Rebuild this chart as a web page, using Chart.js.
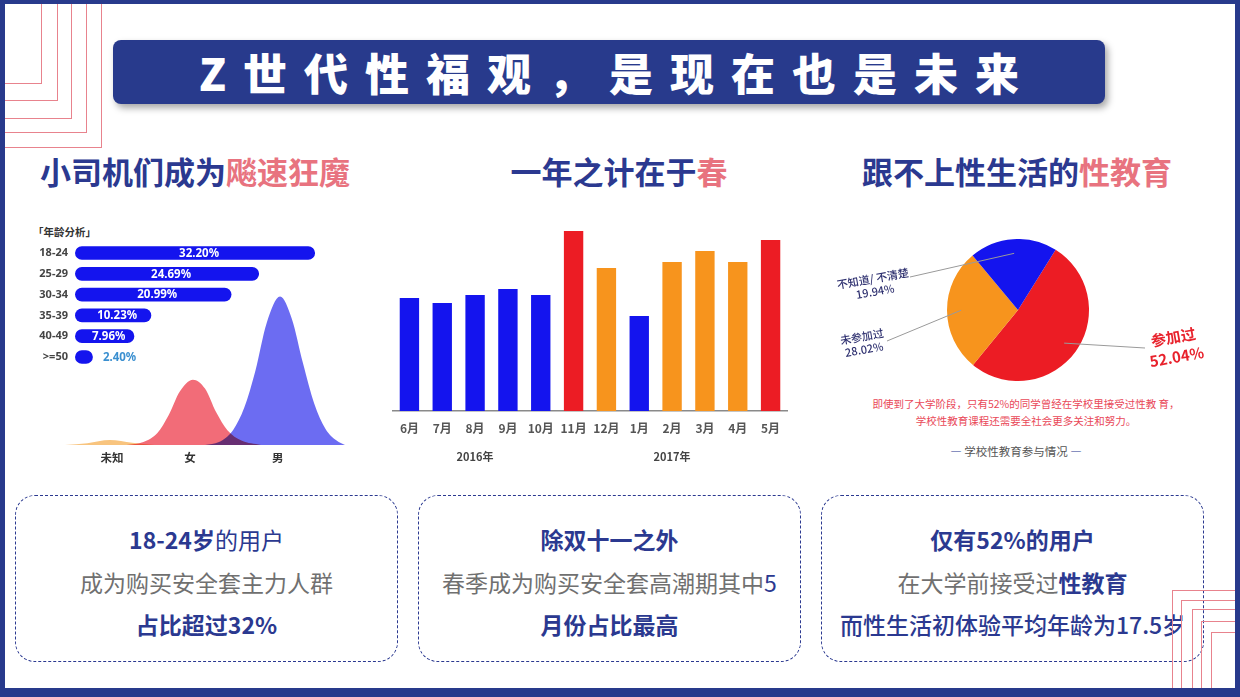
<!DOCTYPE html>
<html lang="zh-CN">
<head>
<meta charset="utf-8">
<title>Z世代性福观，是现在也是未来</title>
<script src="https://cdn.jsdelivr.net/npm/chart.js@4.4.1/dist/chart.umd.min.js"></script>
<style>
    html, body { margin: 0; padding: 0; }
    body {
        width: 1240px; height: 697px; position: relative; overflow: hidden;
        background: #fff;
        font-family: 'Noto Sans CJK SC', 'Noto Sans', sans-serif;
    }
    .frame {
        position: absolute; left: 0; top: 0; width: 1240px; height: 697px;
        box-sizing: border-box; border: solid #283a8c;
        border-width: 4px 5px 9px 5px; z-index: 6; pointer-events: none;
    }
    .deco-tl { position: absolute; left: 5px; top: 0; box-sizing: border-box;
        border-right: 1.5px solid #e8838d; border-bottom: 1.5px solid #e8838d; z-index: 4; }
    .deco-br { position: absolute; right: 0; bottom: 0; box-sizing: border-box;
        border-left: 1.5px solid #e8838d; border-top: 1.5px solid #e8838d; z-index: 4; }
    .title-bar {
        position: absolute; left: 113px; top: 40px; width: 992px; height: 64px;
        background: #283a8c; border-radius: 8px;
        box-shadow: 3px 4px 7px rgba(0,0,0,0.35);
        color: #fff; font-size: 44px; font-weight: 900; letter-spacing: 17px;
        line-height: 64px; text-align: center; padding-left: 17px; box-sizing: border-box;
        z-index: 5;
    }
    .heading {
        position: absolute; top: 151px; width: 400px; text-align: center;
        font-size: 31px; font-weight: 700; line-height: 40px; color: #2b3990;
    }
    .heading .pink { color: #e8737f; }
    .note-box {
        position: absolute; top: 495px; width: 383px; height: 167px;
        box-sizing: border-box; border: 1.5px dashed #2b3990; border-radius: 20px;
        text-align: center; font-size: 23px; line-height: 42.5px; padding-top: 22px;
        color: #2b3990;
    }
    .note-box .b { font-weight: 700; }
    .note-box .m { font-weight: 500; }
    .note-box .g { color: #707070; }
    canvas { position: absolute; }
    .small { position: absolute; white-space: nowrap; }
</style>
</head>
<body>

<div class="frame"></div>

<!-- 角落装饰线 -->
<div class="deco-tl" style="width:37px;height:84px"></div>
<div class="deco-tl" style="width:53px;height:101px"></div>
<div class="deco-tl" style="width:67px;height:119px"></div>
<div class="deco-tl" style="width:82px;height:133px"></div>
<div class="deco-tl" style="width:97px;height:148px"></div>

<div class="deco-br" style="left:1172px;top:590px"></div>
<div class="deco-br" style="left:1181px;top:600px"></div>
<div class="deco-br" style="left:1192px;top:609px"></div>
<div class="deco-br" style="left:1201px;top:621px"></div>
<div class="deco-br" style="left:1211px;top:632px"></div>

<div class="title-bar">Z世代性福观，是现在也是未来</div>

<div class="heading" style="left:-5px">小司机们成为<span class="pink">飚速狂魔</span></div>
<div class="heading" style="left:419px">一年之计在于<span class="pink">春</span></div>
<div class="heading" style="left:817px">跟不上性生活的<span class="pink">性教育</span></div>

<!-- 年龄分析 -->
<div class="small" style="left:33px;top:225px;font-size:10.5px;font-weight:700;line-height:14px;color:#333">「年龄分析」</div>
<canvas id="genderChart" width="280" height="175" style="left:65px;top:295px"></canvas>
<canvas id="ageChart" width="300" height="152" style="left:30px;top:229px"></canvas>

<!-- 月度 -->
<canvas id="monthChart" width="400" height="248" style="left:390px;top:221px"></canvas>

<!-- 学校性教育 -->
<canvas id="eduChart" width="390" height="142" style="left:823px;top:239px"></canvas>
<div class="small" style="left:826px;top:395px;width:400px;text-align:center;font-size:10.5px;line-height:17px;color:#e94858">
    即使到了大学阶段，只有52%的同学曾经在学校里接受过性教 育，<br>学校性教育课程还需要全社会更多关注和努力。
</div>
<div class="small" style="left:916px;top:443px;width:200px;text-align:center;font-size:11.5px;line-height:16px;color:#555">
    <span style="color:#2b3990;font-weight:700">—</span> 学校性教育参与情况 <span style="color:#2b3990;font-weight:700">—</span>
</div>

<!-- 说明框 -->
<div class="note-box" style="left:15px">
    <span class="b">18-24岁</span>的用户<br>
    <span class="g">成为购买安全套主力人群</span><br>
    <span class="b">占比超过32%</span>
</div>
<div class="note-box" style="left:418px">
    <span class="b">除双十一之外</span><br>
    <span class="g">春季成为购买安全套高潮期其中</span>5<br>
    <span class="b">月份占比最高</span>
</div>
<div class="note-box" style="left:821px">
    <span class="b">仅有52%的用户</span><br>
    <span class="g">在大学前接受过</span><span class="b">性教育</span><br>
    <span class="m">而性生活初体验平均年龄为17.5岁</span>
</div>

<script>
// 年龄分析
const ageGroups = ['18-24', '25-29', '30-34', '35-39', '40-49', '>=50'];
const agePercent = [32.20, 24.69, 20.99, 10.23, 7.96, 2.40];

// 性别分布曲线（横轴 0-100，纵轴以男性峰值为 100）
const genderLabels = ['未知', '女', '男'];
const genderTickPos = [16.8, 44.6, 76];
const unknownX = [0, 8, 16, 24, 32];
const unknownY = [0, 1.2, 3.3, 1.5, 0];
const femaleX = [22, 28, 33, 37, 41, 45.7, 50, 54, 58, 63, 70];
const femaleY = [0, 2, 8, 20, 36, 44, 38, 22, 10, 3, 0];
const maleX = [50, 55, 60, 64, 68, 72, 76.8, 81, 85, 89, 93, 97, 100];
const maleY = [0, 2, 10, 25, 50, 82, 100, 85, 55, 28, 11, 3, 0];

// 月度购买量
const months = ['6月', '7月', '8月', '9月', '10月', '11月', '12月', '1月', '2月', '3月', '4月', '5月'];
const monthValues = [113, 108, 116, 122, 116, 180, 143, 95, 149, 160, 149, 171];
const yearLabels = ['', '', '2016年', '', '', '', '', '', '2017年', '', '', ''];

// 学校性教育参与情况
const eduLabels = ['参加过', '未参加过', '不知道/ 不清楚'];
const eduValues = [52.04, 28.02, 19.94];

// 颜色
const BLUE = '#1414ee';
const RED = '#ec1c24';
const ORANGE = '#f7941d';
const monthColors = [BLUE, BLUE, BLUE, BLUE, BLUE, RED, ORANGE, BLUE, ORANGE, ORANGE, ORANGE, RED];

Chart.defaults.animation = false;
Chart.defaults.responsive = false;
Chart.defaults.font.family = "'Noto Sans CJK SC', 'Noto Sans', sans-serif";
Chart.defaults.plugins.legend.display = false;
Chart.defaults.plugins.tooltip.enabled = false;

const toPoints = (xs, ys) => xs.map((x, i) => ({ x: x, y: ys[i] }));

// 条形图数值标签
const barValueLabels = {
    id: 'barValueLabels',
    afterDatasetsDraw(chart) {
        const ctx = chart.ctx;
        ctx.save();
        ctx.font = "bold 11.5px 'Noto Sans', sans-serif";
        ctx.textBaseline = 'middle';
        chart.getDatasetMeta(0).data.forEach((bar, i) => {
            const text = agePercent[i].toFixed(2) + '%';
            const w = ctx.measureText(text).width;
            if (bar.x - bar.base > w + 8) {
                ctx.fillStyle = '#fff';
                ctx.textAlign = 'center';
                ctx.fillText(text, (bar.x + bar.base) / 2 + 4, bar.y + 0.5);
            } else {
                ctx.fillStyle = '#3a8fd0';
                ctx.textAlign = 'left';
                ctx.fillText(text, bar.x + 10, bar.y + 0.5);
            }
        });
        ctx.restore();
    }
};

new Chart(document.getElementById('ageChart'), {
    type: 'bar',
    data: {
        labels: ageGroups,
        datasets: [{
            data: agePercent,
            backgroundColor: BLUE,
            borderRadius: 7,
            borderSkipped: false,
            barPercentage: 0.66,
            categoryPercentage: 1
        }]
    },
    options: {
        indexAxis: 'y',
        layout: { padding: 0 },
        scales: {
            x: { display: false, min: 0, max: 34.2 },
            y: {
                grid: { display: false, drawTicks: false },
                border: { display: false },
                ticks: { padding: 7, color: '#444', font: { size: 11, weight: 'bold', family: "'Noto Sans', sans-serif" } },
                afterFit(scale) { scale.width = 45; }
            }
        }
    },
    plugins: [barValueLabels]
});

// 曲线叠加采用正片叠底
const multiplyBlend = {
    id: 'multiplyBlend',
    beforeDatasetsDraw(chart) { chart.ctx.save(); chart.ctx.globalCompositeOperation = 'multiply'; },
    afterDatasetsDraw(chart) { chart.ctx.restore(); }
};

const curve = (xs, ys, color) => ({
    data: toPoints(xs, ys),
    backgroundColor: color,
    borderWidth: 0,
    pointRadius: 0,
    fill: 'origin',
    tension: 0.4,
    cubicInterpolationMode: 'monotone'
});

new Chart(document.getElementById('genderChart'), {
    type: 'line',
    data: {
        datasets: [
            curve(unknownX, unknownY, '#f8c47e'),
            curve(femaleX, femaleY, '#f26c78'),
            curve(maleX, maleY, '#6c6cf2')
        ]
    },
    options: {
        layout: { padding: 0 },
        scales: {
            x: {
                type: 'linear', min: 0, max: 100,
                grid: { display: false, drawTicks: false },
                border: { display: false },
                afterBuildTicks(scale) { scale.ticks = genderTickPos.map(v => ({ value: v })); },
                ticks: {
                    autoSkip: false, maxRotation: 0, padding: 6, color: '#333',
                    font: { size: 11.5, weight: 'bold' },
                    callback: (v, i) => genderLabels[i]
                },
                afterFit(scale) { scale.height = 25; }
            },
            y: { display: false, min: 0, max: 101 }
        }
    },
    plugins: [multiplyBlend]
});

new Chart(document.getElementById('monthChart'), {
    type: 'bar',
    data: {
        labels: months,
        datasets: [{
            data: monthValues,
            backgroundColor: monthColors,
            barPercentage: 0.59,
            categoryPercentage: 1
        }]
    },
    options: {
        layout: { padding: 0 },
        scales: {
            x: {
                weight: 0,
                grid: { display: false, drawTicks: false },
                border: { display: true, color: '#8a8a8a', width: 1.5 },
                ticks: { padding: 10, color: '#555', font: { size: 12, weight: 'bold' } },
                afterFit(scale) { scale.height = 28; }
            },
            x2: {
                type: 'category', position: 'bottom', weight: 1,
                labels: yearLabels, offset: true,
                grid: { display: false, drawTicks: false },
                border: { display: false },
                ticks: { autoSkip: false, maxRotation: 0, padding: 11, color: '#444', font: { size: 11, weight: 'bold' } },
                afterFit(scale) { scale.height = 30; }
            },
            y: { display: false, min: 0, max: 190 }
        }
    }
});

// 饼图引线标签（相对圆心的位置）
const eduLabelLayout = [
    { end: [127, 38], at: [157, 37], gap: 10, color: '#e8222c', font: "bold 15px 'Noto Sans CJK SC', sans-serif" },
    { end: [-131, 31], at: [-155, 33], gap: 6.5, color: '#2f3170', font: "500 11px 'Noto Sans CJK SC', sans-serif" },
    { end: [-108, -33], at: [-144, -25], gap: 6.5, color: '#2f3170', font: "500 11px 'Noto Sans CJK SC', sans-serif" }
];

const pieCallouts = {
    id: 'pieCallouts',
    afterDatasetsDraw(chart) {
        const ctx = chart.ctx;
        ctx.save();
        chart.getDatasetMeta(0).data.forEach((arc, i) => {
            const lay = eduLabelLayout[i];
            const mid = (arc.startAngle + arc.endAngle) / 2;
            const sx = arc.x + Math.cos(mid) * arc.outerRadius * 0.8;
            const sy = arc.y + Math.sin(mid) * arc.outerRadius * 0.8;
            ctx.strokeStyle = '#9a9a9a';
            ctx.lineWidth = 1;
            ctx.beginPath();
            ctx.moveTo(sx, sy);
            ctx.lineTo(arc.x + lay.end[0], arc.y + lay.end[1]);
            ctx.stroke();

            ctx.save();
            ctx.translate(arc.x + lay.at[0], arc.y + lay.at[1]);
            ctx.rotate(-10 * Math.PI / 180);
            ctx.fillStyle = lay.color;
            ctx.font = lay.font;
            ctx.textAlign = 'center';
            ctx.textBaseline = 'middle';
            ctx.fillText(eduLabels[i], 0, -lay.gap);
            ctx.fillText(eduValues[i].toFixed(2) + '%', 0, lay.gap);
            ctx.restore();
        });
        ctx.restore();
    }
};

new Chart(document.getElementById('eduChart'), {
    type: 'pie',
    data: {
        labels: eduLabels,
        datasets: [{
            data: eduValues,
            backgroundColor: [RED, ORANGE, BLUE],
            borderWidth: 0
        }]
    },
    options: {
        rotation: 32,
        layout: { padding: 0 }
    },
    plugins: [pieCallouts]
});
</script>
</body>
</html>
